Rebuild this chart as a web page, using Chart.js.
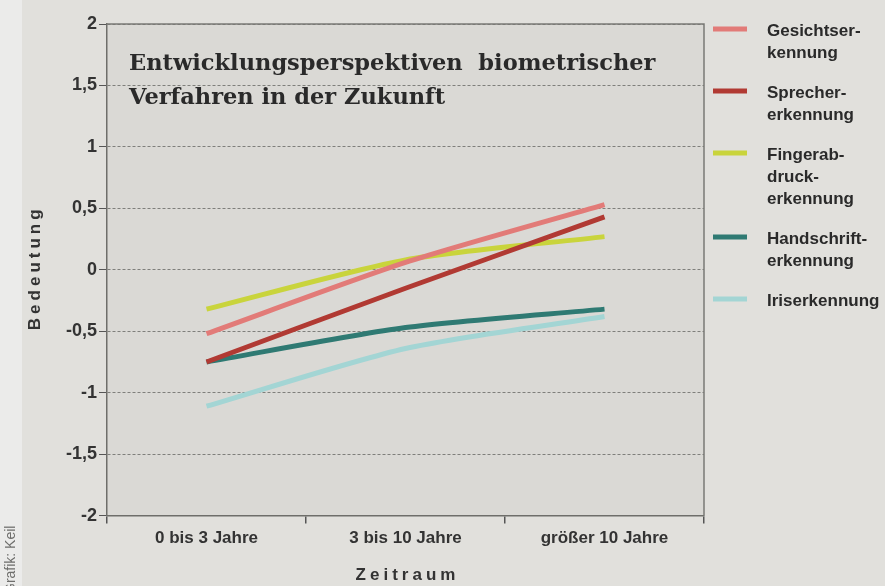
<!DOCTYPE html>
<html>
<head>
<meta charset="utf-8">
<script src="https://cdn.jsdelivr.net/npm/chart.js@4.4.0/dist/chart.umd.min.js"></script>
<style>
html, body { margin: 0; padding: 0; background: #e1e0dc; }
</style>
</head>
<body>
<canvas id="myChart" width="885" height="586"></canvas>
<script>
var zeitraum = ["0 bis 3 Jahre", "3 bis 10 Jahre", "größer 10 Jahre"];
var yTicks = [-2, -1.5, -1, -0.5, 0, 0.5, 1, 1.5, 2];

var gesicht = [-0.52, 0.06, 0.53];
var sprecher = [-0.75, -0.15, 0.43];
var finger = [-0.32, 0.08, 0.27];
var handschrift = [-0.75, -0.47, -0.32];
var iris = [-1.11, -0.64, -0.38];

var legendeGesicht = ["Gesichtser-", "kennung"];
var legendeSprecher = ["Sprecher-", "erkennung"];
var legendeFinger = ["Fingerab-", "druck-", "erkennung"];
var legendeHand = ["Handschrift-", "erkennung"];
var legendeIris = ["Iriserkennung"];

var titel = ["Entwicklungsperspektiven  biometrischer", "Verfahren in der Zukunft"];

function komma(v) {
    return String(v).replace('.', ',');
}

var deko = {
    id: 'deko',
    beforeDraw: function(chart) {
        var ctx = chart.ctx, a = chart.chartArea;
        ctx.save();
        ctx.fillStyle = '#e1e0dc';
        ctx.fillRect(0, 0, chart.width, chart.height);
        ctx.fillStyle = '#ebebea';
        ctx.fillRect(0, 0, 22, chart.height);
        ctx.fillStyle = '#dad9d5';
        ctx.fillRect(a.left, a.top, a.right - a.left, a.bottom - a.top);
        ctx.restore();
    },
    afterDraw: function(chart) {
        var ctx = chart.ctx, a = chart.chartArea;
        ctx.save();
        // rahmen oben + rechts
        ctx.strokeStyle = '#7a7a76';
        ctx.lineWidth = 1.5;
        ctx.beginPath();
        ctx.moveTo(a.left, a.top);
        ctx.lineTo(a.right, a.top);
        ctx.lineTo(a.right, a.bottom);
        ctx.stroke();

        // titel im diagramm
        ctx.fillStyle = '#2a2a2a';
        ctx.font = 'bold 22.5px "DejaVu Serif"';
        ctx.textBaseline = 'middle';
        ctx.textAlign = 'left';
        titel.forEach(function(t, i) {
            ctx.fillText(t, a.left + 22, a.top + 40 + i * 34);
        });

        // achsentitel
        ctx.font = 'bold 17px "Liberation Sans"';
        ctx.fillStyle = '#333';
        ctx.letterSpacing = '4px';
        ctx.textAlign = 'center';
        ctx.fillText('Zeitraum', (a.left + a.right) / 2 + 2, 575);
        ctx.save();
        ctx.translate(35, (a.top + a.bottom) / 2);
        ctx.rotate(-Math.PI / 2);
        ctx.fillText('Bedeutung', 2, 0);
        ctx.restore();
        ctx.letterSpacing = '0px';

        // legende
        var x0 = a.right + 9, y = a.top + 5;
        ctx.textAlign = 'left';
        ctx.font = 'bold 17px "Liberation Sans"';
        chart.data.datasets.forEach(function(ds) {
            ctx.strokeStyle = ds.borderColor;
            ctx.lineWidth = 5;
            ctx.beginPath();
            ctx.moveTo(x0, y);
            ctx.lineTo(x0 + 34, y);
            ctx.stroke();
            ctx.fillStyle = '#2a2a2a';
            ds.zeilen.forEach(function(t, i) {
                ctx.fillText(t, x0 + 54, y + 2 + i * 22);
            });
            y += ds.zeilen.length * 22 + 18;
        });

        // quelle
        ctx.save();
        ctx.translate(15, 594);
        ctx.rotate(-Math.PI / 2);
        ctx.font = '14px "Liberation Sans"';
        ctx.fillStyle = '#6e6e6c';
        ctx.textAlign = 'left';
        ctx.textBaseline = 'alphabetic';
        ctx.fillText('Grafik: Keil', 0, 0);
        ctx.restore();
        ctx.restore();
    }
};

function linie(name, zeilen, werte, farbe) {
    return {
        label: name,
        zeilen: zeilen,
        data: werte,
        borderColor: farbe,
        backgroundColor: farbe,
        borderWidth: 5,
        pointRadius: 0,
        tension: 0.25,
        fill: false
    };
}

function chart1() {
    const ctx = document.getElementById('myChart').getContext('2d');
    const myChart = new Chart(ctx, {
        type: 'line',
        data: {
            labels: zeitraum,
            datasets: [
                linie('Gesichtserkennung', legendeGesicht, gesicht, '#e27b78'),
                linie('Sprechererkennung', legendeSprecher, sprecher, '#b13a33'),
                linie('Fingerabdruckerkennung', legendeFinger, finger, '#c9d43c'),
                linie('Handschrifterkennung', legendeHand, handschrift, '#2f7a73'),
                linie('Iriserkennung', legendeIris, iris, '#a3d5d4')
            ]
        },
        options: {
            responsive: false,
            animation: false,
            layout: { padding: { left: 64, right: 181, top: 24, bottom: 32 } },
            plugins: {
                legend: { display: false },
                title: { display: false },
                tooltip: { enabled: false }
            },
            scales: {
                x: {
                    offset: true,
                    grid: { offset: true, drawOnChartArea: false, tickLength: 8, tickColor: '#555', lineWidth: 1.5 },
                    border: { color: '#6e6e6a', width: 1.5 },
                    ticks: { color: '#333', padding: 5, font: { family: 'Liberation Sans', size: 17, weight: 'bold' } }
                },
                y: {
                    min: -2,
                    max: 2,
                    afterBuildTicks: function(scale) {
                        scale.ticks = yTicks.map(function(v) { return { value: v }; });
                    },
                    grid: { color: '#7f7f7b', tickLength: 8, tickColor: '#555', tickBorderDash: [] },
                    border: { color: '#6e6e6a', width: 1.5, dash: [3, 2] },
                    ticks: {
                        color: '#333',
                        padding: 2,
                        font: { family: 'Liberation Sans', size: 18, weight: 'bold' },
                        callback: function(v) { return komma(v); }
                    }
                }
            }
        },
        plugins: [deko]
    });
}
chart1()
</script>
</body>
</html>
